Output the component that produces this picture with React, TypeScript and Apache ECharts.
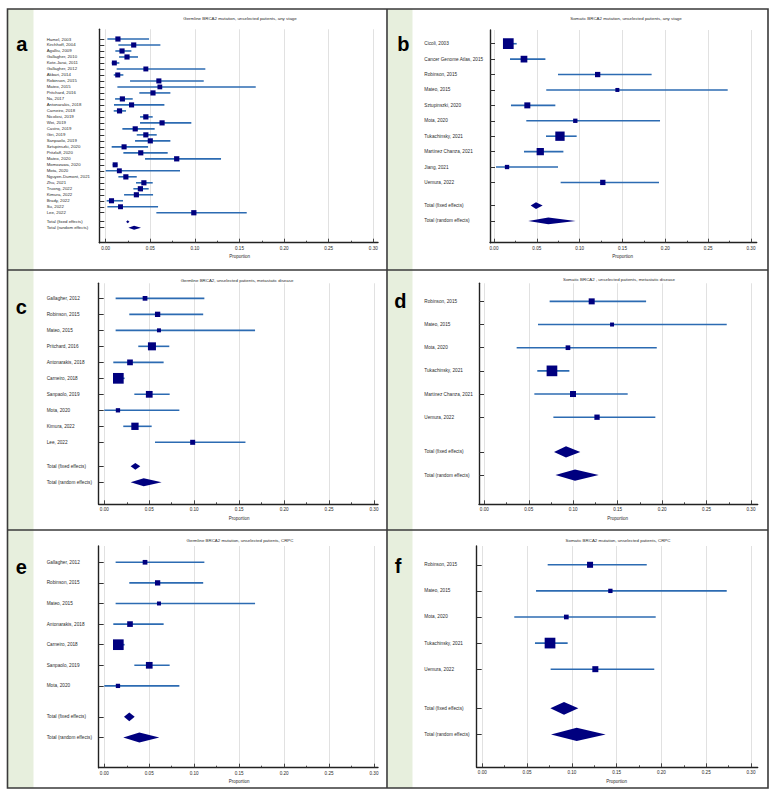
import React, { useEffect, useRef } from "react";
import * as echarts from "echarts";

const W = 775;
const H = 796;

// ---------------- DATA ----------------
const TOTAL_LABELS = ["Total (fixed effects)", "Total (random effects)"];
const TICK_VALUES = [0, 0.05, 0.1, 0.15, 0.2, 0.25, 0.3];

// a: Germline BRCA2 mutation, unselected patients, any stage
const aTitle = "Germline BRCA2 mutation, unselected patients, any stage";
const aStudies = ["Hamel, 2003", "Kirchhoff, 2004", "Agalliu, 2009", "Gallagher, 2010", "Kote-Jarai, 2011", "Gallagher, 2012", "Akbari, 2014", "Robinson, 2015", "Mateo, 2015", "Pritchard, 2016", "Na, 2017", "Antonarakis, 2018", "Carneiro, 2018", "Nicolosi, 2019", "Wei, 2019", "Castro, 2019", "Giri, 2019", "Sanpaolo, 2019", "Sztupinszki, 2020", "Pritzlaff, 2020", "Mateo, 2020", "Momozawa, 2020", "Mota, 2020", "Nguyen-Dumont, 2021", "Zhu, 2021", "Truong, 2022", "Kimura, 2022", "Brady, 2022", "Su, 2022", "Lee, 2022"];
const aEst = [0.0137, 0.0314, 0.0183, 0.0239, 0.0097, 0.045, 0.0135, 0.0596, 0.0607, 0.053, 0.0187, 0.029, 0.0155, 0.045, 0.0632, 0.0331, 0.045, 0.05, 0.0206, 0.0393, 0.0796, 0.0106, 0.0153, 0.0226, 0.0428, 0.0389, 0.0344, 0.0065, 0.0166, 0.0988];
const aLo = [0.0019, 0.0142, 0.0108, 0.015, 0.0067, 0.0123, 0.009, 0.0273, 0.0131, 0.0377, 0.0105, 0.0093, 0.009, 0.0385, 0.0385, 0.0187, 0.0348, 0.0329, 0.0067, 0.0198, 0.0441, 0.0078, 0.0, 0.0142, 0.034, 0.031, 0.0206, 0.0011, 0.0019, 0.0568];
const aHi = [0.0486, 0.0613, 0.0288, 0.0362, 0.0153, 0.1117, 0.0198, 0.1099, 0.1682, 0.0725, 0.0303, 0.0658, 0.0228, 0.0527, 0.096, 0.0549, 0.0572, 0.0725, 0.0475, 0.0695, 0.1293, 0.0131, 0.0833, 0.0348, 0.0527, 0.0482, 0.0531, 0.0194, 0.0587, 0.1581];
const aWeights = [3.4, 3.4, 3.4, 3.4, 3.1, 3.1, 3.2, 3.3, 2.9, 3.4, 3.4, 3.3, 3.4, 3.5, 3.4, 3.4, 3.4, 3.4, 3.3, 3.4, 3.5, 3.2, 3.1, 3.4, 3.4, 3.5, 3.4, 3.3, 3.1, 3.5];
const aFixed = [0.0247, 0.0229, 0.0266];
const aRandom = [0.0318, 0.0254, 0.0396];

// b: Somatic BRCA2 mutation, unselected patients, any stage
const bTitle = "Somatic BRCA2 mutation, unselected patients, any stage";
const bStudies = ["Cicoli, 2003", "Cancer Genome Atlas, 2015", "Robinson, 2015", "Mateo, 2015", "Sztupinszki, 2020", "Mota, 2020", "Tukachinsky, 2021", "Martinez Chanza, 2021", "Jiang, 2021", "Uemura, 2022"];
const bEst = [0.0167, 0.035, 0.121, 0.144, 0.0389, 0.0949, 0.077, 0.054, 0.0152, 0.127];
const bLo = [0.011, 0.0187, 0.0747, 0.061, 0.0198, 0.0377, 0.0607, 0.035, 0.0023, 0.0778];
const bHi = [0.0265, 0.06, 0.184, 0.2728, 0.0716, 0.1938, 0.0965, 0.081, 0.0747, 0.1926];
const bWeights = [25.7, 10.1, 6.3, 3.6, 8.1, 4.2, 19.5, 11.9, 4.2, 6.3];
const bFixed = [0.049, 0.0428, 0.0568];
const bRandom = [0.0634, 0.04, 0.0953];

// c: Germline BRCA2, unselected patients, metastatic disease
const cTitle = "Germline BRCA2, unselected patients, metastatic disease";
const cStudies = ["Gallagher, 2012", "Robinson, 2015", "Mateo, 2015", "Pritchard, 2016", "Antonarakis, 2018", "Carneiro, 2018", "Sanpaolo, 2019", "Mota, 2020", "Kimura, 2022", "Lee, 2022"];
const cEst = [0.0453, 0.0593, 0.0608, 0.053, 0.0286, 0.0156, 0.05, 0.0152, 0.0341, 0.0983];
const cLo = [0.0126, 0.0278, 0.0126, 0.0378, 0.01, 0.01, 0.0334, 0.0, 0.0211, 0.0564];
const cHi = [0.1113, 0.11, 0.1677, 0.0723, 0.066, 0.0226, 0.0727, 0.0835, 0.0527, 0.157];
const cWeights = [5.3, 6.7, 3.8, 15.3, 7.7, 27.3, 10.8, 4.4, 12.7, 6.0];
const cFixed = [0.0345, 0.0293, 0.04];
const cRandom = [0.0438, 0.0293, 0.0638];

// d: Somatic BRCA2, unselected patients, metastatic disease
const dTitle = "Somatic BRCA2 , unselected patients, metastatic disease";
const dStudies = ["Robinson, 2015", "Mateo, 2015", "Mota, 2020", "Tukachinsky, 2021", "Martinez Chanza, 2021", "Uemura, 2022"];
const dEst = [0.1208, 0.1437, 0.0941, 0.0761, 0.0998, 0.1268];
const dLo = [0.0735, 0.0604, 0.0364, 0.0596, 0.0563, 0.0777];
const dHi = [0.182, 0.2727, 0.194, 0.0957, 0.1613, 0.1924];
const dWeights = [14.3, 6.3, 8.7, 45.2, 14.3, 11.1];
const dFixed = [0.0919, 0.0784, 0.108];
const dRandom = [0.102, 0.08, 0.1287];

// e: Germline BRCA2 mutation, unselected patients, CRPC
const eTitle = "Germline BRCA2 mutation, unselected patients, CRPC";
const eStudies = ["Gallagher, 2012", "Robinson, 2015", "Mateo, 2015", "Antonarakis, 2018", "Carneiro, 2018", "Sanpaolo, 2019", "Mota, 2020"];
const eEst = [0.0453, 0.0593, 0.0608, 0.0286, 0.0156, 0.05, 0.0152];
const eLo = [0.0126, 0.0278, 0.0126, 0.01, 0.01, 0.0334, 0.0];
const eHi = [0.1113, 0.11, 0.1677, 0.066, 0.0226, 0.0727, 0.0835];
const eWeights = [8.0, 10.2, 5.8, 11.6, 41.4, 16.3, 6.7];
const eFixed = [0.0278, 0.0219, 0.0338];
const eRandom = [0.039, 0.0211, 0.0612];

// f: Somatic BRCA2 mutation, unselected patients, CRPC
const fTitle = "Somatic BRCA2 mutation, unselected patients, CRPC";
const fStudies = ["Robinson, 2015", "Mateo, 2015", "Mota, 2020", "Tukachinsky, 2021", "Uemura, 2022"];
const fEst = [0.1203, 0.143, 0.0938, 0.0756, 0.1262];
const fLo = [0.073, 0.06, 0.0357, 0.0588, 0.0763];
const fHi = [0.1836, 0.2729, 0.1936, 0.0953, 0.192];
const fWeights = [15.9, 8.2, 9.7, 50.3, 15.9];
const fFixed = [0.0912, 0.076, 0.1072];
const fRandom = [0.1054, 0.0767, 0.1377];

const PANELS = [
  { letter: "a", title: aTitle, studies: aStudies, est: aEst, lo: aLo, hi: aHi, w: aWeights, fixed: aFixed, random: aRandom },
  { letter: "b", title: bTitle, studies: bStudies, est: bEst, lo: bLo, hi: bHi, w: bWeights, fixed: bFixed, random: bRandom },
  { letter: "c", title: cTitle, studies: cStudies, est: cEst, lo: cLo, hi: cHi, w: cWeights, fixed: cFixed, random: cRandom },
  { letter: "d", title: dTitle, studies: dStudies, est: dEst, lo: dLo, hi: dHi, w: dWeights, fixed: dFixed, random: dRandom },
  { letter: "e", title: eTitle, studies: eStudies, est: eEst, lo: eLo, hi: eHi, w: eWeights, fixed: eFixed, random: eRandom },
  { letter: "f", title: fTitle, studies: fStudies, est: fEst, lo: fLo, hi: fHi, w: fWeights, fixed: fFixed, random: fRandom },
];

// ---------------- LAYOUT / STYLE ----------------
const LAYOUT = [
  { axisX: 99.3, top: 29.3, bottom: 242.7, right: 378, x0: 105.7, x30: 373.3, labelLeft: 46.7, titleX: 240, titleY: 18.3, letterX: 21.7, letterY: 44, yMin: -1.62, yMax: 34.0, labelSize: 4.3, k: 2.8, dh: [3, 4] },
  { axisX: 490, top: 30, bottom: 242.7, right: 756.7, x0: 494, x30: 751, labelLeft: 424.3, titleX: 626, titleY: 18.3, letterX: 403.3, letterY: 44, yMin: -0.89, yMax: 12.91, labelSize: 4.7, k: 2.11, dh: [6.7, 6.7] },
  { axisX: 98.7, top: 283.3, bottom: 504.3, right: 378, x0: 104.3, x30: 374, labelLeft: 46.7, titleX: 237, titleY: 280.7, letterX: 21.3, letterY: 307, yMin: -0.94, yMax: 12.875, labelSize: 4.7, k: 2.05, dh: [6.7, 8] },
  { axisX: 479, top: 283.3, bottom: 504.3, right: 757.7, x0: 484.3, x30: 751, labelLeft: 424.3, titleX: 619, titleY: 279, letterX: 400.3, letterY: 301, yMin: -0.78, yMax: 8.76, labelSize: 4.7, k: 1.59, dh: [11.3, 11.3] },
  { axisX: 98.7, top: 546, bottom: 767.7, right: 378, x0: 104.3, x30: 374, labelLeft: 46.7, titleX: 240, titleY: 540.7, letterX: 21.3, letterY: 567, yMin: -0.79, yMax: 9.97, labelSize: 4.7, k: 1.66, dh: [8.7, 10] },
  { axisX: 476.7, top: 546, bottom: 767.3, right: 757.7, x0: 482.3, x30: 751, labelLeft: 424.3, titleX: 618, titleY: 540.7, letterX: 398, letterY: 566, yMin: -0.72, yMax: 7.76, labelSize: 4.7, k: 1.51, dh: [12.7, 13.3] },
];

const FONT = "'Liberation Sans', Arial, Helvetica, sans-serif";
const NAVY = "#00007f";
const CI_COLOR = "#2c6bb2";
const AXIS_COLOR = "#222";
const TICK_COLOR = "#333";
const TEXT_COLOR = "#2a2a2a";
const GRID_COLOR = "#dedede";
const STRIP_COLOR = "#e7efdd";
const BORDER_COLOR = "#3a3a3a";

function buildOption() {
  const grid: any[] = [];
  const xAxis: any[] = [];
  const yAxis: any[] = [];
  const series: any[] = [];
  const graphic: any[] = [];

  // green strips
  graphic.push({ type: "rect", z: 0, shape: { x: 8, y: 9, width: 25.5, height: 779 }, style: { fill: STRIP_COLOR } });
  graphic.push({ type: "rect", z: 0, shape: { x: 387.5, y: 9, width: 25, height: 779 }, style: { fill: STRIP_COLOR } });
  // borders
  graphic.push({ type: "rect", z: 10, shape: { x: 7.5, y: 9, width: 760.5, height: 779 }, style: { fill: "none", stroke: BORDER_COLOR, lineWidth: 1.6 } });
  graphic.push({ type: "line", z: 10, shape: { x1: 387, y1: 9, x2: 387, y2: 788 }, style: { stroke: BORDER_COLOR, lineWidth: 1.6 } });
  graphic.push({ type: "line", z: 10, shape: { x1: 7.5, y1: 270, x2: 768, y2: 270 }, style: { stroke: BORDER_COLOR, lineWidth: 1.6 } });
  graphic.push({ type: "line", z: 10, shape: { x1: 7.5, y1: 530, x2: 768, y2: 530 }, style: { stroke: BORDER_COLOR, lineWidth: 1.6 } });

  PANELS.forEach((p, i) => {
    const L = LAYOUT[i];
    const n = p.studies.length;
    const fixedRow = n + 0.5;
    const randomRow = n + 1.5;
    const rows = p.studies.map((_, j) => j);
    const tickRows = [...rows, fixedRow, randomRow];
    const labels = [...p.studies, ...TOTAL_LABELS];

    // frame grid (axis lines + y labels)
    grid.push({ left: L.axisX, right: W - L.right, top: L.top, bottom: H - L.bottom });
    // data grid (0 .. 0.30)
    grid.push({ left: L.x0, right: W - L.x30, top: L.top, bottom: H - L.bottom });

    xAxis.push({
      gridIndex: 2 * i, type: "value", min: 0, max: 1,
      axisLine: { show: true, onZero: false, lineStyle: { color: AXIS_COLOR, width: 1.4 } },
      axisTick: { show: false }, axisLabel: { show: false }, splitLine: { show: false },
    });
    xAxis.push({
      gridIndex: 2 * i + 1, type: "value", min: 0, max: 0.3, interval: 0.05,
      axisLine: { show: false, onZero: false },
      axisTick: { show: true, inside: true, length: 4, lineStyle: { color: TICK_COLOR, width: 0.9 } },
      minorTick: { show: true, splitNumber: 2, length: 2, lineStyle: { color: TICK_COLOR, width: 0.9 } },
      splitLine: { show: true, lineStyle: { color: GRID_COLOR, width: 0.9 } },
      axisLabel: { formatter: (v: number) => v.toFixed(2), fontSize: 4.6, margin: 3, color: TEXT_COLOR, fontFamily: FONT, customValues: TICK_VALUES },
      name: "Proportion", nameLocation: "middle", nameGap: 11.5,
      nameTextStyle: { fontSize: 4.5, color: TEXT_COLOR, fontFamily: FONT },
    });
    yAxis.push({
      gridIndex: 2 * i, type: "value", min: L.yMin, max: L.yMax, inverse: true,
      axisLine: { show: true, onZero: false, lineStyle: { color: AXIS_COLOR, width: 1.4 } },
      axisTick: { show: true, inside: true, length: 5, customValues: tickRows, lineStyle: { color: TICK_COLOR, width: 1 } },
      axisLabel: {
        show: true, customValues: tickRows, align: "left", margin: L.axisX - L.labelLeft,
        fontSize: L.labelSize, color: TEXT_COLOR, fontFamily: FONT,
        formatter: (v: number) => {
          const idx = tickRows.findIndex((r) => Math.abs(r - v) < 1e-6);
          return idx >= 0 ? labels[idx] : "";
        },
      },
      splitLine: { show: false },
    });
    yAxis.push({ gridIndex: 2 * i + 1, type: "value", min: L.yMin, max: L.yMax, inverse: true, show: false, axisLine: { onZero: false } });

    const k = L.k;
    series.push({
      type: "custom", xAxisIndex: 2 * i + 1, yAxisIndex: 2 * i + 1, silent: true, clip: false,
      encode: { x: [0, 1, 2], y: 3 },
      data: p.studies.map((_, j) => [p.est[j], p.lo[j], p.hi[j], j, p.w[j]]),
      renderItem: (params: any, api: any) => {
        const row = api.value(3);
        const c = api.coord([api.value(0), row]);
        const l = api.coord([api.value(1), row]);
        const h = api.coord([api.value(2), row]);
        const s = k * Math.sqrt(api.value(4));
        return {
          type: "group",
          children: [
            { type: "line", shape: { x1: l[0], y1: l[1], x2: h[0], y2: h[1] }, style: { stroke: CI_COLOR, lineWidth: 1.6 } },
            { type: "rect", shape: { x: c[0] - s / 2, y: c[1] - s / 2, width: s, height: s }, style: { fill: NAVY } },
          ],
        };
      },
    });
    series.push({
      type: "custom", xAxisIndex: 2 * i + 1, yAxisIndex: 2 * i + 1, silent: true, clip: false,
      encode: { x: [0, 1, 2], y: 3 },
      data: [[p.fixed[0], p.fixed[1], p.fixed[2], fixedRow, 0], [p.random[0], p.random[1], p.random[2], randomRow, 1]],
      renderItem: (params: any, api: any) => {
        const row = api.value(3);
        const c = api.coord([api.value(0), row]);
        const l = api.coord([api.value(1), row]);
        const h = api.coord([api.value(2), row]);
        const hh = L.dh[api.value(4)] / 2;
        return {
          type: "polygon",
          shape: { points: [[l[0], c[1]], [c[0], c[1] - hh], [h[0], c[1]], [c[0], c[1] + hh]] },
          style: { fill: NAVY },
        };
      },
    });

    graphic.push({
      type: "text", z: 20,
      style: { text: p.title, x: L.titleX, y: L.titleY, fill: TEXT_COLOR, font: `4.4px ${FONT}`, align: "center", verticalAlign: "middle", textAlign: "center", textVerticalAlign: "middle" },
    });
    graphic.push({
      type: "text", z: 20,
      style: { text: p.letter, x: L.letterX, y: L.letterY, fill: "#000", font: `bold 20px ${FONT}`, align: "center", verticalAlign: "middle", textAlign: "center", textVerticalAlign: "middle" },
    });
  });

  return { animation: false, backgroundColor: "#ffffff", grid, xAxis, yAxis, series, graphic };
}

export default function App() {
  const ref = useRef<HTMLDivElement>(null);
  useEffect(() => {
    document.body.style.margin = "0";
    const chart = echarts.init(ref.current as HTMLDivElement, undefined, { renderer: "svg", width: W, height: H });
    chart.setOption(buildOption() as any);
    return () => chart.dispose();
  }, []);
  return <div ref={ref} style={{ width: W, height: H }} />;
}
